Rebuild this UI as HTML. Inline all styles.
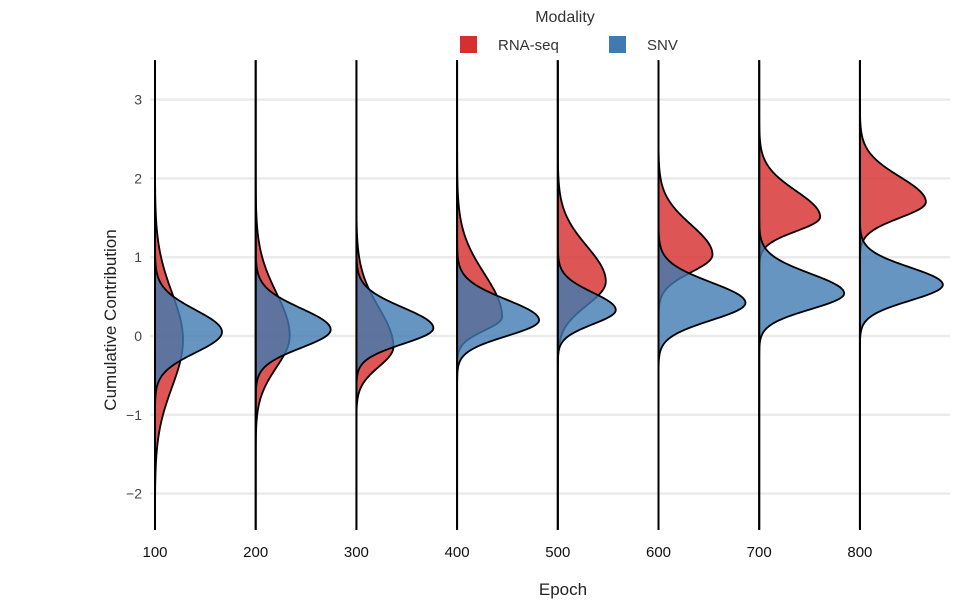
<!DOCTYPE html>
<html><head><meta charset="utf-8"><style>
body{margin:0;background:#fff;}
svg{font-family:"Liberation Sans",sans-serif;}
</style></head><body>
<svg id="chart" width="960" height="600" viewBox="0 0 960 600">
<g id="grid"></g>
<g id="marks"></g>
<g id="axes"></g>
<text x="565" y="22" text-anchor="middle" font-size="16" fill="#333">Modality</text>
<g>
<rect x="460" y="36" width="17" height="17" fill="#d62f2f"/>
<text x="498" y="50" font-size="15" fill="#333">RNA-seq</text></g>
<g>
<rect x="609" y="36" width="17" height="17" fill="#3f7ab0"/>
<text x="647" y="50" font-size="15" fill="#333">SNV</text></g>
<text x="563" y="595" text-anchor="middle" font-size="17" fill="#222">Epoch</text>
<text transform="translate(116,320) rotate(-90)" text-anchor="middle" font-size="17" fill="#222">Cumulative Contribution</text>
</svg>
<script>
const epochs=[100,200,300,400,500,600,700,800];
const rnaMean=[-0.05,0.0,-0.14,0.24,0.69,1.03,1.51,1.7];
const rnaSdUp=[0.6,0.55,0.5,0.55,0.45,0.38,0.33,0.32];
const rnaSdDown=[0.6,0.4,0.25,0.17,0.3,0.22,0.18,0.2];
const rnaPeak=[28,34,37,45,48,54,61,66];
const snvMean=[0.05,0.08,0.1,0.2,0.33,0.42,0.54,0.65];
const snvSdUp=[0.28,0.27,0.26,0.26,0.22,0.26,0.25,0.22];
const snvSdDown=[0.26,0.23,0.2,0.2,0.18,0.22,0.2,0.2];
const snvPeak=[67,75,77,82,58,87,85,83];
const yTicks=[-2,-1,0,1,2,3];
const NS="http://www.w3.org/2000/svg";
const yScale=v=>336-v*78.8;
const xScale=e=>155+(e-100)*100.7/100;
const yMin=-2.46,yMax=3.5;
const grid=document.getElementById('grid'),marks=document.getElementById('marks'),axes=document.getElementById('axes');
function mk(tag,attrs,parent){const el=document.createElementNS(NS,tag);for(const k in attrs)el.setAttribute(k,attrs[k]);parent.appendChild(el);return el;}
yTicks.forEach(t=>{
 const l=mk('line',{x1:150,x2:950,y1:yScale(t),y2:yScale(t),stroke:'#ebebeb','stroke-width':2.5},grid);
 
 
 const tx=mk('text',{x:142,y:yScale(t)+5,'text-anchor':'end','font-size':14,fill:'#444'},axes);
 tx.textContent=t<0?'\u2212'+Math.abs(t):String(t);
 
 
});
function curve(x0,m,su,sd,p){
 let d='M'+x0+','+yScale(yMax);
 for(let v=yMax;v>=yMin;v-=0.02){const s=v>=m?su:sd;const w=p*Math.exp(-0.5*((v-m)/s)**2);d+=' L'+(x0+w).toFixed(2)+','+yScale(v).toFixed(2);}
 d+=' L'+x0+','+yScale(yMin)+' Z';return d;
}
epochs.forEach((e,i)=>{
 const x0=xScale(e);
 const r=mk('path',{d:curve(x0,rnaMean[i],rnaSdUp[i],rnaSdDown[i],rnaPeak[i]),fill:'#d62f2f','fill-opacity':0.82,stroke:'#000','stroke-width':1.8},marks);
 
 
 const b=mk('path',{d:curve(x0,snvMean[i],snvSdUp[i],snvSdDown[i],snvPeak[i]),fill:'#3f7ab0','fill-opacity':0.8,stroke:'#000','stroke-width':1.8},marks);
 
 
 const ln=mk('line',{x1:x0,x2:x0,y1:yScale(yMax),y2:yScale(yMin),stroke:'#000','stroke-width':2},marks);
 
 
 const tx=mk('text',{x:x0,y:557,'text-anchor':'middle','font-size':15,fill:'#111'},axes);
 tx.textContent=String(e);
 
 
});
</script>
</body></html>
